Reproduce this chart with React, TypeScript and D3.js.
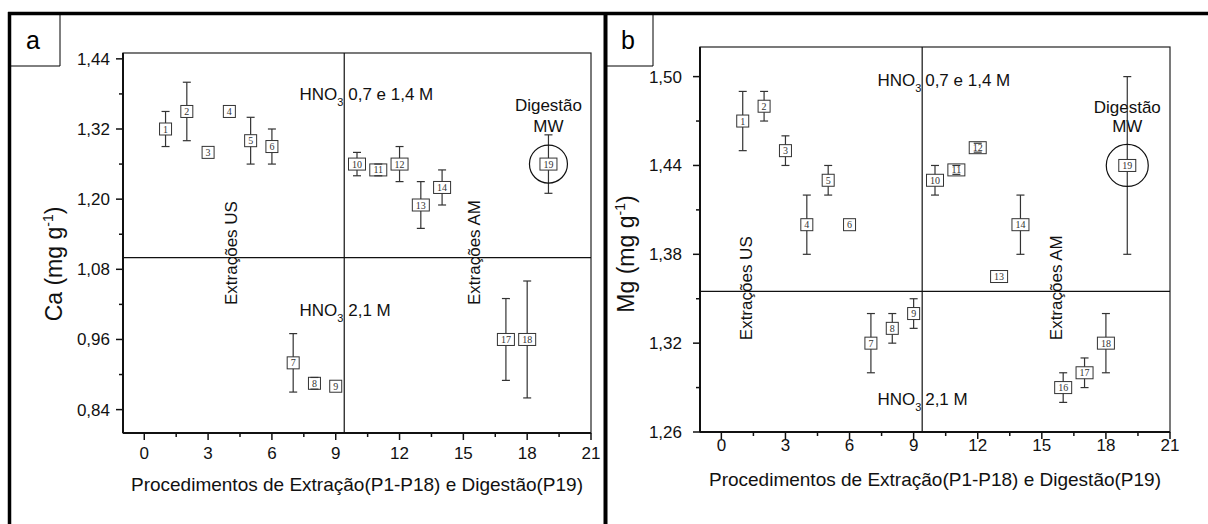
import * as d3 from 'd3';

// Ca panel (a): procedure number, mean and error bar half-width
const caProcedures = [1, 2, 3, 4, 5, 6, 7, 8, 9, 10, 11, 12, 13, 14, 17, 18, 19];
const caMeans = [1.32, 1.35, 1.28, 1.35, 1.3, 1.29, 0.92, 0.885, 0.88, 1.26, 1.25, 1.26, 1.19, 1.22, 0.96, 0.96, 1.26];
const caErrors = [0.03, 0.05, 0, 0, 0.04, 0.03, 0.05, 0.01, 0, 0.02, 0.01, 0.03, 0.04, 0.03, 0.07, 0.1, 0.05];

// Mg panel (b)
const mgProcedures = [1, 2, 3, 4, 5, 6, 7, 8, 9, 10, 11, 12, 13, 14, 16, 17, 18, 19];
const mgMeans = [1.47, 1.48, 1.45, 1.4, 1.43, 1.4, 1.32, 1.33, 1.34, 1.43, 1.437, 1.452, 1.365, 1.4, 1.29, 1.3, 1.32, 1.44];
const mgErrors = [0.02, 0.01, 0.01, 0.02, 0.01, 0, 0.02, 0.01, 0.01, 0.01, 0.003, 0.003, 0, 0.02, 0.01, 0.01, 0.02, 0.06];

const xTickValues = [0, 3, 6, 9, 12, 15, 18, 21];
const caTickValues = [0.84, 0.96, 1.08, 1.2, 1.32, 1.44];
const mgTickValues = [1.26, 1.32, 1.38, 1.44, 1.5];

const xTitle = 'Procedimentos de Extração(P1-P18) e Digestão(P19)';
const digestedProcedure = 19;

const SANS = '"Liberation Sans", Arial, sans-serif';
const SERIF = '"Liberation Serif", "Times New Roman", serif';

interface PanelSpec {
	letter: string;
	frameLeft: number;
	letterX: number;
	boxRight: number;
	plot: { left: number; top: number; right: number; bottom: number };
	yDomain: [number, number];
	yTicks: number[];
	element: string;
	procedures: number[];
	means: number[];
	errors: number[];
	yLabelX: number;
	yLabelY: number;
	yTickGap: number;
	xTickBaseline: number;
	xTitleBaseline: number;
	hLine: number;
	vLine: number;
	hnoTopY: number;
	hnoBottomY: number;
	afterGap: number;
	digestY: number;
	mwY: number;
	extrY: number;
	usX: number;
	amX: number;
	circleR: number;
}

const panels: PanelSpec[] = [
	{
		letter: 'a',
		frameLeft: 8,
		letterX: 26,
		boxRight: 60,
		plot: { left: 123, top: 53, right: 591, bottom: 433 },
		yDomain: [0.8, 1.45],
		yTicks: caTickValues,
		element: 'Ca',
		procedures: caProcedures,
		means: caMeans,
		errors: caErrors,
		yLabelX: 62,
		yLabelY: 264,
		yTickGap: 13,
		xTickBaseline: 459,
		xTitleBaseline: 491,
		hLine: 1.1,
		vLine: 9.4,
		hnoTopY: 1.37,
		hnoBottomY: 1.0,
		afterGap: 4,
		digestY: 1.35,
		mwY: 1.315,
		extrY: 1.019,
		usX: 4.36,
		amX: 15.8,
		circleR: 19,
	},
	{
		letter: 'b',
		frameLeft: 605,
		letterX: 621,
		boxRight: 653,
		plot: { left: 700, top: 47, right: 1170, bottom: 432 },
		yDomain: [1.26, 1.52],
		yTicks: mgTickValues,
		element: 'Mg',
		procedures: mgProcedures,
		means: mgMeans,
		errors: mgErrors,
		yLabelX: 634,
		yLabelY: 254,
		yTickGap: 18,
		xTickBaseline: 451,
		xTitleBaseline: 486,
		hLine: 1.355,
		vLine: 9.4,
		hnoTopY: 1.494,
		hnoBottomY: 1.278,
		afterGap: 3,
		digestY: 1.4755,
		mwY: 1.4626,
		extrY: 1.322,
		usX: 1.45,
		amX: 15.95,
		circleR: 21,
	},
];

const fmtComma = (v: number) => d3.format('.2f')(v).replace('.', ',');

function HnoLabel({ x, y, rest, gap }: { x: number; y: number; rest: string; gap: number }) {
	return (
		<g fontFamily={SANS} fontSize={17} fill="#111">
			<text x={x - 7} y={y} textAnchor="end">HNO</text>
			<text x={x - 7} y={y + 6} fontSize={11}>3</text>
			<text x={x + gap} y={y}>{rest}</text>
		</g>
	);
}

function Panel({ p }: { p: PanelSpec }) {
	const { plot } = p;
	const x = d3.scaleLinear().domain([-1, 21]).range([plot.left, plot.right]);
	const y = d3.scaleLinear().domain(p.yDomain).range([plot.bottom, plot.top]);

	const xMinor = d3.pairs(xTickValues).map(([a, b]) => (a + b) / 2);
	const yMinor = d3.pairs(p.yTicks).map(([a, b]) => (a + b) / 2);

	const points = p.procedures.map((proc, i) => ({
		proc,
		mean: p.means[i],
		err: p.errors[i],
	}));
	const digest = points.find((d) => d.proc === digestedProcedure);

	const vx = x(p.vLine);
	const hy = y(p.hLine);
	const capHalf = 4;

	return (
		<g>
			{/* panel letter box */}
			<line x1={p.boxRight} x2={p.boxRight} y1={13} y2={66} stroke="#000" strokeWidth={1} />
			<line x1={p.frameLeft} x2={p.boxRight} y1={66} y2={66} stroke="#000" strokeWidth={1} />
			<text x={p.letterX} y={49} fontFamily={SANS} fontSize={25} fill="#000">
				{p.letter}
			</text>

			{/* plot frame */}
			<rect
				x={plot.left}
				y={plot.top}
				width={plot.right - plot.left}
				height={plot.bottom - plot.top}
				fill="none"
				stroke="#222"
				strokeWidth={1.2}
			/>
			<line x1={plot.left} x2={plot.left} y1={plot.top} y2={plot.bottom} stroke="#111" strokeWidth={2} />
			<line x1={plot.left} x2={plot.right} y1={plot.bottom} y2={plot.bottom} stroke="#111" strokeWidth={2} />

			{/* x ticks */}
			{xTickValues.map((t) => (
				<g key={`xt${t}`}>
					<line x1={x(t)} x2={x(t)} y1={plot.bottom} y2={plot.bottom + 7} stroke="#111" strokeWidth={1.5} />
					<text
						x={x(t)}
						y={p.xTickBaseline}
						textAnchor="middle"
						fontFamily={SANS}
						fontSize={17}
						fill="#111"
					>
						{t}
					</text>
				</g>
			))}
			{xMinor.map((t) => (
				<line key={`xm${t}`} x1={x(t)} x2={x(t)} y1={plot.bottom} y2={plot.bottom + 4} stroke="#111" strokeWidth={1.5} />
			))}

			{/* y ticks */}
			{p.yTicks.map((t) => (
				<g key={`yt${t}`}>
					<line x1={plot.left - 7} x2={plot.left} y1={y(t)} y2={y(t)} stroke="#111" strokeWidth={1.5} />
					<text
						x={plot.left - p.yTickGap}
						y={y(t) + 6}
						textAnchor="end"
						fontFamily={SANS}
						fontSize={17}
						fill="#111"
					>
						{fmtComma(t)}
					</text>
				</g>
			))}
			{yMinor.map((t) => (
				<line key={`ym${t}`} x1={plot.left - 4} x2={plot.left} y1={y(t)} y2={y(t)} stroke="#111" strokeWidth={1.5} />
			))}

			{/* axis titles */}
			<text
				x={(plot.left + plot.right) / 2}
				y={p.xTitleBaseline}
				textAnchor="middle"
				fontFamily={SANS}
				fontSize={19}
				fill="#111"
			>
				{xTitle}
			</text>
			<text
				transform={`translate(${p.yLabelX},${p.yLabelY}) rotate(-90)`}
				textAnchor="middle"
				fontFamily={SANS}
				fontSize={23}
				fill="#111"
			>
				{`${p.element} (mg g`}
				<tspan fontSize={14} dy={-9}>-1</tspan>
				<tspan dy={9}>)</tspan>
			</text>

			{/* quadrant dividers */}
			<line x1={vx} x2={vx} y1={plot.top} y2={plot.bottom} stroke="#111" strokeWidth={1.2} />
			<line x1={plot.left} x2={plot.right} y1={hy} y2={hy} stroke="#111" strokeWidth={1.2} />

			{/* annotations */}
			<HnoLabel x={vx} y={y(p.hnoTopY)} rest="0,7 e 1,4 M" gap={p.afterGap} />
			<HnoLabel x={vx} y={y(p.hnoBottomY)} rest="2,1 M" gap={p.afterGap} />
			<text x={x(digestedProcedure)} y={y(p.digestY)} textAnchor="middle" fontFamily={SANS} fontSize={17} fill="#111">
				Digestão
			</text>
			<text x={x(digestedProcedure)} y={y(p.mwY)} textAnchor="middle" fontFamily={SANS} fontSize={17} fill="#111">
				MW
			</text>
			<text
				transform={`translate(${x(p.usX)},${y(p.extrY)}) rotate(-90)`}
				fontFamily={SANS}
				fontSize={17}
				fill="#111"
			>
				Extrações US
			</text>
			<text
				transform={`translate(${x(p.amX)},${y(p.extrY)}) rotate(-90)`}
				fontFamily={SANS}
				fontSize={17}
				fill="#111"
			>
				Extrações AM
			</text>

			{/* error bar stems */}
			{points
				.filter((d) => d.err > 0)
				.map((d) => (
					<line
						key={`s${d.proc}`}
						x1={x(d.proc)}
						x2={x(d.proc)}
						y1={y(d.mean - d.err)}
						y2={y(d.mean + d.err)}
						stroke="#333"
						strokeWidth={1.2}
					/>
				))}

			{/* numbered square markers */}
			{points.map((d) => {
				const w = 7 + 5 * String(d.proc).length;
				return (
					<g key={`b${d.proc}`}>
						<rect
							x={x(d.proc) - w / 2}
							y={y(d.mean) - 6}
							width={w}
							height={12}
							fill="#fff"
							stroke="#333"
							strokeWidth={1}
						/>
						<text
							x={x(d.proc)}
							y={y(d.mean) + 3.5}
							textAnchor="middle"
							fontFamily={SERIF}
							fontSize={10}
							fill="#333"
						>
							{d.proc}
						</text>
					</g>
				);
			})}

			{/* error bar caps */}
			{points
				.filter((d) => d.err > 0)
				.map((d) => (
					<g key={`c${d.proc}`} stroke="#333" strokeWidth={1.2}>
						<line x1={x(d.proc) - capHalf} x2={x(d.proc) + capHalf} y1={y(d.mean + d.err)} y2={y(d.mean + d.err)} />
						<line x1={x(d.proc) - capHalf} x2={x(d.proc) + capHalf} y1={y(d.mean - d.err)} y2={y(d.mean - d.err)} />
					</g>
				))}

			{/* circle around the microwave digestion point */}
			{digest && (
				<circle cx={x(digest.proc)} cy={y(digest.mean)} r={p.circleR} fill="none" stroke="#111" strokeWidth={1.2} />
			)}
		</g>
	);
}

export default function App() {
	return (
		<svg
			width={1208}
			height={524}
			style={{ position: 'absolute', left: 0, top: 0, background: '#fff' }}
		>
			{/* outer figure frame */}
			<line x1={8} x2={1208} y1={13.5} y2={13.5} stroke="#000" strokeWidth={3.5} />
			<line x1={9.5} x2={9.5} y1={12} y2={524} stroke="#000" strokeWidth={3.5} />
			<line x1={605.5} x2={605.5} y1={12} y2={524} stroke="#000" strokeWidth={4} />
			{panels.map((p) => (
				<Panel key={p.letter} p={p} />
			))}
		</svg>
	);
}
